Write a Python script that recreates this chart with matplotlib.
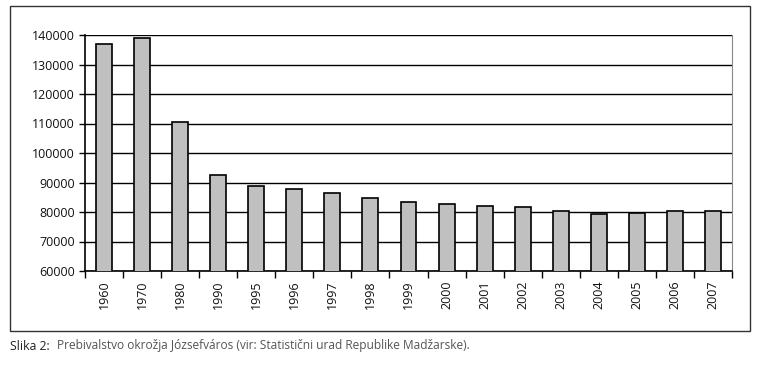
import matplotlib.pyplot as plt
from matplotlib.patches import Rectangle
import numpy as np

years = ["1960", "1970", "1980", "1990", "1995", "1996", "1997", "1998", "1999",
         "2000", "2001", "2002", "2003", "2004", "2005", "2006", "2007"]
population = [136800, 139100, 110600, 92600, 88800, 87800, 86500, 84600, 83500,
              82600, 81900, 81600, 80400, 79400, 79800, 80300, 80300]

plt.rcParams["font.family"] = ["Open Sans", "DejaVu Sans"]

fig = plt.figure(figsize=(7.63, 3.69), dpi=100)
W, H = 763, 369
ax = fig.add_axes([85 / W, 1 - 271 / H, (732 - 85) / W, (271 - 35) / H])

x = np.arange(len(years))
ax.bar(x, population, width=0.42, color="#c0c0c0", edgecolor="black",
       linewidth=1.2, zorder=3)

ax.set_ylim(60000, 140000)
ax.set_xlim(-0.5, len(years) - 0.5)
ax.set_yticks(np.arange(60000, 140001, 10000))
ax.yaxis.grid(True, color="black", linewidth=1.0, zorder=0)
ax.set_axisbelow(True)

# ticks sit between categories, labels at bar centres
ax.set_xticks(np.arange(-0.5, len(years)), minor=False)
ax.set_xticklabels([])
ax.set_xticks(x, minor=True)
ax.set_xticklabels(years, minor=True, rotation=90, fontsize=9, color="#111111")
ax.tick_params(axis="x", which="minor", length=0, pad=7)
ax.tick_params(axis="x", which="major", length=5, width=1, direction="out")
ax.tick_params(axis="y", length=4, width=1, labelsize=9, labelcolor="#111111")

ax.spines["top"].set_visible(False)
ax.spines["right"].set_color("#888888")
ax.spines["left"].set_linewidth(1.2)
ax.spines["bottom"].set_linewidth(1.2)

# outer frame around the chart
frame = Rectangle((10 / W, 1 - 331 / H), 740 / W, 325 / H, transform=fig.transFigure,
                  fill=False, edgecolor="#333333", linewidth=1.0)
fig.patches.append(frame)

fig.text(10 / W, 1 - 346 / H, "Slika 2:", fontsize=8.8, color="#222222", va="center")
fig.text(57 / W, 1 - 346 / H,
         "Prebivalstvo okrožja Józsefváros (vir: Statistični urad Republike Madžarske).",
         fontsize=8.6, color="#555555", va="center")

fig.savefig("out.png", dpi=100)
